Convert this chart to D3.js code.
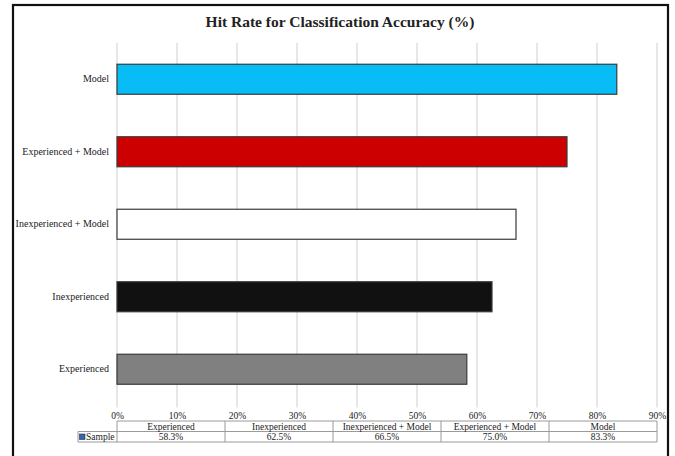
<!DOCTYPE html>
<html>
<head>
<meta charset="utf-8">
<script src="https://cdn.jsdelivr.net/npm/d3@7"></script>
<style>
  html, body { margin: 0; padding: 0; background: #fff; }
  svg { display: block; }
  text { font-family: "Liberation Serif", "Times New Roman", serif; fill: #222; }
</style>
</head>
<body>
<svg id="chart" width="675" height="456"></svg>
<script>
// Categories, listed top to bottom as drawn
const categories = ["Model", "Experienced + Model", "Inexperienced + Model", "Inexperienced", "Experienced"];
// Hit rate (%) for each category
const hitRates = [83.3, 75.0, 66.5, 62.5, 58.3];
const barColors = ["#08bdf5", "#cc0000", "#ffffff", "#111111", "#808080"];
// Data-table order (left to right)
const tableOrder = ["Experienced", "Inexperienced", "Inexperienced + Model", "Experienced + Model", "Model"];
const xTicks = [0, 10, 20, 30, 40, 50, 60, 70, 80, 90];
const seriesName = "Sample";
const title = "Hit Rate for Classification Accuracy (%)";

const svg = d3.select("#chart");
const W = 675, H = 456;

// Outer frame
svg.append("rect").attr("x", 13).attr("y", 5).attr("width", 655).attr("height", 460)
  .attr("fill", "#fff").attr("stroke", "#111").attr("stroke-width", 2.2);

const plot = { left: 117, right: 657, top: 43, bottom: 405.5 };

const x = d3.scaleLinear().domain([0, 90]).range([plot.left, plot.right]);
const y = d3.scaleBand().domain(categories).range([plot.top, plot.bottom]).paddingInner(0.586).paddingOuter(0.293);

// Title
svg.append("text").attr("x", 340).attr("y", 27).attr("text-anchor", "middle")
  .attr("font-size", 15.5).attr("font-weight", "bold").attr("fill", "#111").text(title);

// Vertical gridlines
svg.append("g").selectAll("line").data(xTicks).join("line")
  .attr("x1", d => x(d)).attr("x2", d => x(d))
  .attr("y1", plot.top).attr("y2", plot.bottom + 2)
  .attr("stroke", "#cfcfcf").attr("stroke-width", 1);

// Bars
const rows = categories.map((c, i) => ({ cat: c, v: hitRates[i], color: barColors[i] }));
svg.append("g").selectAll("rect").data(rows).join("rect")
  .attr("x", x(0)).attr("y", d => y(d.cat))
  .attr("width", d => x(d.v) - x(0)).attr("height", y.bandwidth())
  .attr("fill", d => d.color).attr("stroke", "#3a3a3a").attr("stroke-width", 1.2);

// Category labels
const yAxis = d3.axisLeft(y).tickSize(0).tickPadding(8);
const gy = svg.append("g").attr("transform", `translate(${plot.left},0)`).call(yAxis);
gy.select(".domain").remove();
gy.selectAll("text").attr("font-family", "Liberation Serif, serif").attr("font-size", 10).attr("fill", "#222");

// X tick labels
const xAxis = d3.axisBottom(x).tickValues(xTicks).tickSize(0).tickPadding(5).tickFormat(d => d + "%");
const gx = svg.append("g").attr("transform", `translate(0,${plot.bottom + 2})`).call(xAxis);
gx.select(".domain").remove();
gx.selectAll("text").attr("font-family", "Liberation Serif, serif").attr("font-size", 9.5).attr("fill", "#222");

// Data table under the axis
const colW = (plot.right - plot.left) / tableOrder.length;
const tTop = 421, rowH = 10.5;
const tbl = svg.append("g");
const lineCol = "#9a9a9a";
// horizontal rules
tbl.append("line").attr("x1", plot.left).attr("x2", plot.right).attr("y1", tTop).attr("y2", tTop).attr("stroke", lineCol);
tbl.append("line").attr("x1", 78).attr("x2", plot.right).attr("y1", tTop + rowH).attr("y2", tTop + rowH).attr("stroke", lineCol);
tbl.append("line").attr("x1", 78).attr("x2", plot.right).attr("y1", tTop + 2 * rowH).attr("y2", tTop + 2 * rowH).attr("stroke", lineCol);
tbl.append("line").attr("x1", 78).attr("x2", 78).attr("y1", tTop + rowH).attr("y2", tTop + 2 * rowH).attr("stroke", lineCol);
// column separators
d3.range(tableOrder.length + 1).forEach(i => {
  tbl.append("line").attr("x1", plot.left + i * colW).attr("x2", plot.left + i * colW)
    .attr("y1", tTop).attr("y2", tTop + 2 * rowH).attr("stroke", lineCol);
});
tbl.selectAll("text.head").data(tableOrder).join("text").attr("class", "head")
  .attr("x", (d, i) => plot.left + (i + 0.5) * colW).attr("y", tTop + rowH - 2)
  .attr("text-anchor", "middle").attr("font-size", 9.5).text(d => d);
tbl.selectAll("text.val").data(tableOrder).join("text").attr("class", "val")
  .attr("x", (d, i) => plot.left + (i + 0.5) * colW).attr("y", tTop + 2 * rowH - 2)
  .attr("text-anchor", "middle").attr("font-size", 9.5)
  .text(d => hitRates[categories.indexOf(d)].toFixed(1) + "%");
// legend key for the series row
tbl.append("rect").attr("x", 79.5).attr("y", tTop + rowH + 2.5).attr("width", 5.5).attr("height", 5.5)
  .attr("fill", "#3a64a8").attr("stroke", "#1d2f55").attr("stroke-width", 0.6);
tbl.append("text").attr("x", 86).attr("y", tTop + 2 * rowH - 2).attr("font-size", 9.5).text(seriesName);
</script>
</body>
</html>
